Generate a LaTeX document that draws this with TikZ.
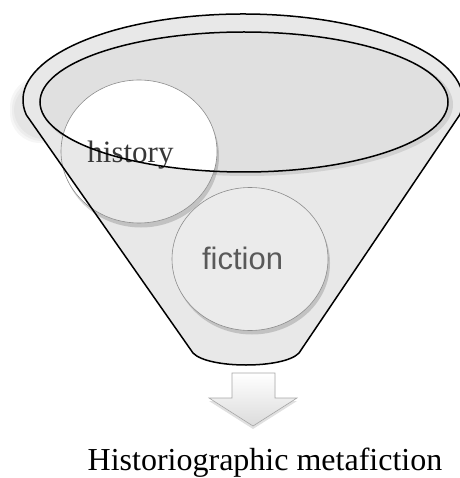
\documentclass[tikz,border=0pt]{standalone}
\usepackage{fontspec}
\setmainfont{Liberation Serif}
\newfontfamily\arialfont{Liberation Sans}
\begin{document}
\begin{tikzpicture}[x=1pt,y=1pt,
  outline/.style={draw=black, line width=1.5pt},
  bubble/.style={draw=black!45, line width=0.6pt},
  softshade/.style={fill=black, opacity=0.16},
  bodyfill/.style={fill=black!9},
  blur/.style={fill=black, opacity=0.035},
  label/.style={inner sep=0pt, anchor=base}]
\path[use as bounding box] (0,0) rectangle (459,-478);
\def\funnelpath{(26.34,-114.93) arc[start angle=190,end angle=-10,x radius=220,y radius=86] -- (299,-353) .. controls (284,-369) and (208,-369) .. (193,-353) -- cycle}
% soft rim shadow on the left
\foreach \d in {0,2,4} {
  \fill[blur, rounded corners=30pt] (10+\d,-77-\d) rectangle (200,-143+\d);
}
% funnel body
\path[bodyfill] \funnelpath;
% inner opening
\fill[black!18] (247,-104.5) ellipse[x radius=206,y radius=71.5];
\fill[black!12] (244,-102) ellipse[x radius=204,y radius=70];
% history bubble
\fill[softshade] (141,-156) ellipse[x radius=78,y radius=71.5];
\fill[white] (139,-151.5) ellipse[x radius=78,y radius=71.5];
\begin{scope}
  \clip (139,-151.5) ellipse[x radius=78,y radius=71.5];
  \path[bodyfill, even odd rule] \funnelpath (244,-102) ellipse[x radius=204,y radius=70];
\end{scope}
\draw[bubble] (139,-151.5) ellipse[x radius=78,y radius=71.5];
\node[label, text=black!78, font=\fontsize{31}{31}\selectfont] (history) at (130.5,-163) {history};
% fiction bubble
\fill[softshade] (252,-263) ellipse[x radius=78,y radius=71.5];
\fill[black!8] (250,-259) ellipse[x radius=78,y radius=71.5];
\draw[bubble] (250,-259) ellipse[x radius=78,y radius=71.5];
\node[label, text=black!65, font=\arialfont\fontsize{31}{31}\selectfont] (fiction) at (242.5,-269) {fiction};
% outlines
\draw[outline] (244,-102) ellipse[x radius=204,y radius=70];
\draw[outline] \funnelpath;
% arrow
\fill[black, opacity=0.12] (232,-376) -- (275,-376) -- (275,-401) -- (297,-401) -- (253,-429) -- (209,-401) -- (232,-401) -- cycle;
\path[draw=black!35, line width=0.6pt, top color=white, bottom color=black!14] (232,-373) -- (275,-373) -- (275,-398) -- (297,-398) -- (253,-426) -- (209,-398) -- (232,-398) -- cycle;
% result label
\node[label, font=\fontsize{32}{32}\selectfont] (result) at (265,-470) {Historiographic metafiction};
\end{tikzpicture}
\end{document}
